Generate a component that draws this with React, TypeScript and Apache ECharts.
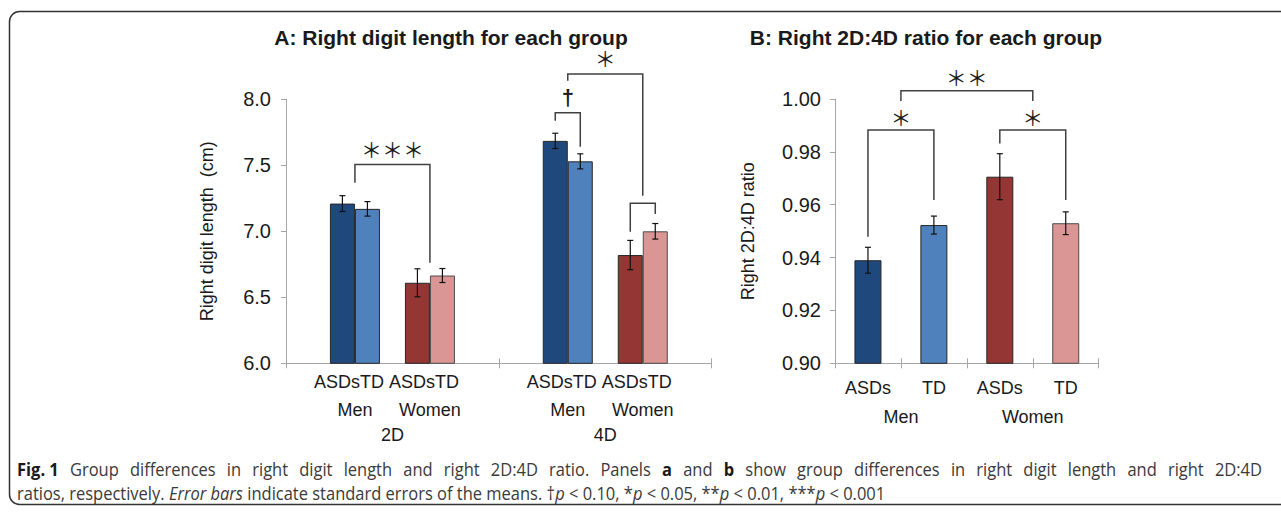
import React, { useEffect, useRef } from 'react';
import * as echarts from 'echarts';

// ---------- Panel A data ----------
const digitGroups = ['2D', '4D'];
const sexLabels = ['Men', 'Women'];
const diagLabels = ['ASDs', 'TD'];
const menASDsLen = [7.21, 7.685];
const menTDLen = [7.17, 7.53];
const womenASDsLen = [6.61, 6.82];
const womenTDLen = [6.665, 7.0];
const menASDsLenSE = [0.06, 0.058];
const menTDLenSE = [0.055, 0.057];
const womenASDsLenSE = [0.106, 0.111];
const womenTDLenSE = [0.053, 0.059];
const emptySlotLen = [6.0, '-'];
const lenMin = 6.0;
const lenMax = 8.0;
const lenStep = 0.5;

// brackets: [digit group, from slot, to slot, left foot, top, right foot, label, label level]
const bracketsA: [number, number, number, number, number, number, string, number][] = [
  [0, 0.5, 3.5, 7.368, 7.507, 6.762, '＊＊＊', 7.621],
  [1, 0, 1, 7.838, 7.898, 7.641, '†', 8.01],
  [1, 0.5, 3.5, 8.141, 8.192, 7.27, '＊', 8.313],
  [1, 3, 4, 6.997, 7.212, 7.131, '', 0],
];

// ---------- Panel B data ----------
const ratioCategories = ['ASDs', 'TD', 'ASDs', 'TD'];
const ratioGroups = ['Men', 'Women'];
const ratioMeans = [0.939, 0.9523, 0.9706, 0.953];
const ratioSE = [0.0049, 0.0034, 0.0087, 0.0043];
const ratioMin = 0.9;
const ratioMax = 1.0;
const ratioStep = 0.02;
// brackets: [from cat, to cat, left foot, top, right foot, label, label level]
const bracketsB: [number, number, number, number, number, string, number][] = [
  [0, 1, 0.9479, 0.9883, 0.9618, '＊', 0.9933],
  [0.5, 2.5, 0.9992, 1.0031, 0.9992, '＊＊', 1.0082],
  [2, 3, 0.9832, 0.9883, 0.9618, '＊', 0.9933],
];

// ---------- caption ----------
const captionLine1: [string, string][] = [
  ['Fig. 1', 'b'], ['Group', 'r'], ['differences', 'r'], ['in', 'r'], ['right', 'r'], ['digit', 'r'],
  ['length', 'r'], ['and', 'r'], ['right', 'r'], ['2D:4D', 'r'], ['ratio.', 'r'], ['Panels', 'r'],
  ['a', 'b'], ['and', 'r'], ['b', 'b'], ['show', 'r'], ['group', 'r'], ['differences', 'r'], ['in', 'r'],
  ['right', 'r'], ['digit', 'r'], ['length', 'r'], ['and', 'r'], ['right', 'r'], ['2D:4D', 'r'],
];
const captionLine2: [string, string][] = [
  ['ratios, respectively. ', 'r'], ['Error bars', 'i'], [' indicate standard errors of the means. †', 'r'],
  ['p', 'i'], [' < 0.10, *', 'r'], ['p', 'i'], [' < 0.05, **', 'r'], ['p', 'i'], [' < 0.01, ***', 'r'],
  ['p', 'i'], [' < 0.001', 'r'],
];

// ---------- styles ----------
const C_MEN_ASD = '#1f497d';
const C_MEN_TD = '#4f81bd';
const C_WOMEN_ASD = '#943634';
const C_WOMEN_TD = '#d99694';
const C_GAP = '#4bacc6';
const AXIS_C = '#a6a6a6';
const TEXT_C = '#1a1a1a';
const BRACKET_C = '#404040';
const FONT = '"Liberation Sans", Arial, sans-serif';
const STAR_FONT = '"Noto Sans CJK JP", "DejaVu Sans", sans-serif';
const CAP_FONT = '"Open Sans", sans-serif';
const CAP_SIZE = 18;
const BAR_W = 25;
const BAR_W_B = 27;

function textEl(x: number, y: number, text: string, align: string, size: number, family: string, weight = 'normal', lineHeight?: number) {
  return {
    type: 'text',
    x,
    y,
    style: {
      text,
      fill: TEXT_C,
      fontSize: size,
      fontFamily: family,
      fontWeight: weight,
      lineHeight: lineHeight || size,
      align,
      verticalAlign: 'middle',
      textAlign: align,
      textVerticalAlign: 'middle',
    },
  };
}

const capStyle = (k: string) => ({
  fontSize: CAP_SIZE,
  fontFamily: CAP_FONT,
  fontWeight: k === 'b' ? 'bold' : 'normal',
  fontStyle: k === 'i' ? 'italic' : 'normal',
  fill: k === 'b' ? '#1a1a1a' : '#3a3a3a',
});

function measure(ctx: CanvasRenderingContext2D | null, text: string, k: string) {
  if (!ctx) return text.length * CAP_SIZE * 0.52;
  ctx.font = `${k === 'i' ? 'italic ' : ''}${k === 'b' ? 'bold ' : ''}${CAP_SIZE}px ${CAP_FONT}`;
  return ctx.measureText(text).width;
}

echarts.graphic.registerShape(
  'frameOpen',
  echarts.graphic.extendPath(
    'M 1300 11.5 H 19.5 A 10 10 0 0 0 9.5 21.5 V 494.5 A 10 10 0 0 0 19.5 504.5 H 1300',
    {}
  )
);

export default function App() {
  const ref = useRef<HTMLDivElement>(null);
  useEffect(() => {
    if (!ref.current) return;
    const chart = echarts.init(ref.current, null, { renderer: 'svg' });

    const lenSeriesMeans = [menASDsLen, menTDLen, womenASDsLen, womenTDLen];
    const lenSeriesSE = [menASDsLenSE, menTDLenSE, womenASDsLenSE, womenTDLenSE];
    const lenSlots = [0, 1, 3, 4];
    const errDataA: number[][] = [];
    lenSeriesMeans.forEach((arr, s) => {
      arr.forEach((v, g) => {
        errDataA.push([g, v, lenSeriesSE[s][g], lenSlots[s]]);
      });
    });

    const labelItemsA: { g: number; slot: number; text: string; kind: string }[] = [];
    digitGroups.forEach((_, g) => {
      sexLabels.forEach((sex, k) => {
        const slot = k * 3 + 0.5;
        labelItemsA.push({ g, slot, text: diagLabels[0], kind: 'left' });
        labelItemsA.push({ g, slot, text: diagLabels[1], kind: 'right' });
        labelItemsA.push({ g, slot, text: sex, kind: 'sex' });
      });
    });

    // ---- caption layout (justified first line, condensed face) ----
    const ctx = document.createElement('canvas').getContext('2d');
    const line2W = captionLine2.reduce((s, [t, k]) => s + measure(ctx, t, k), 0);
    const capScale = 868 / line2W;
    const capLeft = 17;
    const capRight = 1262;
    const wordW = captionLine1.map(([t, k]) => measure(ctx, t, k) * capScale);
    const totalW = wordW.reduce((a, b) => a + b, 0);
    const gapW = (capRight - capLeft - totalW) / (captionLine1.length - 1);
    const captionEls: any[] = [];
    let cx = capLeft;
    captionLine1.forEach(([t, k], i) => {
      captionEls.push({
        type: 'text',
        x: cx,
        y: 469,
        scaleX: capScale,
        silent: true,
        style: { text: t, verticalAlign: 'middle', textVerticalAlign: 'middle', ...capStyle(k) },
      });
      cx += wordW[i] + gapW;
    });
    const rich: any = { b: capStyle('b'), r: capStyle('r'), i: capStyle('i') };
    captionEls.push({
      type: 'text',
      x: capLeft,
      y: 493,
      scaleX: capScale,
      silent: true,
      style: {
        text: captionLine2.map(([t, k]) => `{${k}|${t}}`).join(''),
        verticalAlign: 'middle',
        textVerticalAlign: 'middle',
        ...capStyle('r'),
        rich,
      },
    });

    const barBorder = { borderColor: '#262626', borderWidth: 1 };

    const mkBarA = (name: string, data: any[], color: string, extra: any = {}) => ({
      name,
      type: 'bar',
      xAxisIndex: 0,
      yAxisIndex: 0,
      data,
      barWidth: BAR_W,
      barGap: '0%',
      itemStyle: { color, ...barBorder, ...extra },
      silent: true,
    });

    const errorRender = (slotted: boolean) => (params: any, api: any) => {
      const g = api.value(0);
      const m = api.value(1);
      const se = api.value(2);
      const slot = slotted ? api.value(3) : 2;
      const c = api.coord([g, m]);
      const x = c[0] + (slot - 2) * BAR_W;
      const yt = api.coord([g, m + se])[1];
      const yb = api.coord([g, m - se])[1];
      const st = { stroke: '#111', lineWidth: 1.2 };
      return {
        type: 'group',
        children: [
          { type: 'line', shape: { x1: x, y1: yt, x2: x, y2: yb }, style: st },
          { type: 'line', shape: { x1: x - 3, y1: yt, x2: x + 3, y2: yt }, style: st },
          { type: 'line', shape: { x1: x - 3, y1: yb, x2: x + 3, y2: yb }, style: st },
        ],
      };
    };

    const catAxisBase = (grid: number, data: string[]) => ({
      gridIndex: grid,
      position: 'bottom',
      offset: 0,
      type: 'category',
      data,
    });

    const option: any = {
      animation: false,
      backgroundColor: '#ffffff',
      grid: [
        { left: 286, top: 99.3, width: 425.7, height: 264 },
        { left: 835, top: 99, width: 263.7, height: 264.3 },
      ],
      xAxis: [
        {
          ...catAxisBase(0, digitGroups),
          axisLine: { lineStyle: { color: AXIS_C, width: 1 } },
          axisTick: { show: true, length: 5, alignWithLabel: false, lineStyle: { color: AXIS_C } },
          axisLabel: { margin: 72, fontSize: 18, color: TEXT_C, fontFamily: FONT, verticalAlign: 'middle' },
        },
        {
          ...catAxisBase(0, digitGroups),
          axisLine: { show: false },
          axisTick: { show: true, inside: true, length: 5, lineStyle: { color: AXIS_C } },
          axisLabel: { show: false },
        },
        {
          ...catAxisBase(1, ratioCategories),
          axisLine: { lineStyle: { color: AXIS_C, width: 1 } },
          axisTick: { show: true, length: 5, alignWithLabel: false, lineStyle: { color: AXIS_C } },
          axisLabel: { margin: 25, fontSize: 18, color: TEXT_C, fontFamily: FONT, verticalAlign: 'middle', interval: 0 },
        },
        {
          ...catAxisBase(1, ratioCategories),
          axisLine: { show: false },
          axisTick: { show: true, inside: true, length: 5, lineStyle: { color: AXIS_C } },
          axisLabel: { show: false },
        },
        {
          ...catAxisBase(1, ratioGroups),
          axisLine: { show: false },
          axisTick: { show: false },
          axisLabel: { margin: 53.4, fontSize: 18, color: TEXT_C, fontFamily: FONT, verticalAlign: 'middle' },
        },
      ],
      yAxis: [
        {
          gridIndex: 0,
          type: 'value',
          min: lenMin,
          max: lenMax,
          interval: lenStep,
          axisLine: { show: true, lineStyle: { color: AXIS_C, width: 1 } },
          axisTick: { show: true, length: 5, lineStyle: { color: AXIS_C } },
          splitLine: { show: false },
          axisLabel: {
            margin: 15,
            fontSize: 20,
            color: TEXT_C,
            fontFamily: FONT,
            formatter: (v: number) => v.toFixed(1),
          },
          name: 'Right digit length  (cm)',
          nameLocation: 'middle',
          nameGap: 70,
          nameTextStyle: { fontSize: 18, color: TEXT_C, fontFamily: FONT },
        },
        {
          gridIndex: 1,
          type: 'value',
          min: ratioMin,
          max: ratioMax,
          interval: ratioStep,
          axisLine: { show: true, lineStyle: { color: AXIS_C, width: 1 } },
          axisTick: { show: true, length: 5, lineStyle: { color: AXIS_C } },
          splitLine: { show: false },
          axisLabel: {
            margin: 14,
            fontSize: 20,
            color: TEXT_C,
            fontFamily: FONT,
            formatter: (v: number) => v.toFixed(2),
          },
          name: 'Right 2D:4D ratio',
          nameLocation: 'middle',
          nameGap: 78,
          nameTextStyle: { fontSize: 18, color: TEXT_C, fontFamily: FONT },
        },
      ],
      series: [
        mkBarA('Men ASDs', menASDsLen, C_MEN_ASD),
        mkBarA('Men TD', menTDLen, C_MEN_TD),
        mkBarA('gap', emptySlotLen, C_GAP, { borderColor: C_GAP, borderWidth: 1 }),
        mkBarA('Women ASDs', womenASDsLen, C_WOMEN_ASD),
        mkBarA('Women TD', womenTDLen, C_WOMEN_TD, { borderColor: '#4d4d4d' }),
        {
          type: 'custom',
          xAxisIndex: 0,
          yAxisIndex: 0,
          data: errDataA,
          encode: { x: 0, y: 1 },
          renderItem: errorRender(true),
          silent: true,
          z: 5,
          clip: false,
        },
        {
          type: 'custom',
          xAxisIndex: 0,
          yAxisIndex: 0,
          data: bracketsA.map((b) => [b[0], b[4]]),
          encode: { x: 0, y: 1 },
          clip: false,
          silent: true,
          z: 6,
          renderItem: (params: any, api: any) => {
            const b = bracketsA[params.dataIndex];
            const base = api.coord([b[0], b[4]]);
            const xl = base[0] + (b[1] - 2) * BAR_W;
            const xr = base[0] + (b[2] - 2) * BAR_W;
            const yl = api.coord([b[0], b[3]])[1];
            const yr = api.coord([b[0], b[5]])[1];
            const children: any[] = [
              {
                type: 'polyline',
                shape: { points: [[xl, yl], [xl, base[1]], [xr, base[1]], [xr, yr]] },
                style: { stroke: BRACKET_C, lineWidth: 1.5, fill: 'none' },
              },
            ];
            if (b[6]) {
              const yt = api.coord([b[0], b[7]])[1];
              const isDagger = b[6] === '†';
              children.push(
                textEl((xl + xr) / 2, yt, b[6], 'center', isDagger ? 22 : 21, isDagger ? FONT : STAR_FONT, isDagger ? 'bold' : 'normal', 14)
              );
            }
            return { type: 'group', children };
          },
        },
        {
          type: 'custom',
          xAxisIndex: 0,
          yAxisIndex: 0,
          data: labelItemsA.map((l) => [l.g, lenMin]),
          encode: { x: 0, y: 1 },
          clip: false,
          silent: true,
          renderItem: (params: any, api: any) => {
            const l = labelItemsA[params.dataIndex];
            const c = api.coord([l.g, lenMin]);
            const px = c[0] + (l.slot - 2) * BAR_W;
            if (l.kind === 'sex') return textEl(px, c[1] + 46.7, l.text, 'center', 18, FONT);
            if (l.kind === 'left') return textEl(px + 5, c[1] + 18.4, l.text, 'right', 18, FONT);
            return textEl(px + 5, c[1] + 18.4, l.text, 'left', 18, FONT);
          },
        },
        {
          name: 'ratio',
          type: 'bar',
          xAxisIndex: 2,
          yAxisIndex: 1,
          barWidth: BAR_W_B,
          silent: true,
          data: ratioMeans.map((v, i) => ({
            value: v,
            itemStyle: {
              color: [C_MEN_ASD, C_MEN_TD, C_WOMEN_ASD, C_WOMEN_TD][i],
              borderColor: i === 3 ? '#4d4d4d' : '#262626',
              borderWidth: 1,
            },
          })),
        },
        {
          type: 'custom',
          xAxisIndex: 2,
          yAxisIndex: 1,
          data: ratioMeans.map((v, i) => [i, v, ratioSE[i]]),
          encode: { x: 0, y: 1 },
          renderItem: errorRender(false),
          silent: true,
          z: 5,
          clip: false,
        },
        {
          type: 'custom',
          xAxisIndex: 2,
          yAxisIndex: 1,
          data: bracketsB.map((b) => [Math.round(b[0]), b[3]]),
          encode: { x: 0, y: 1 },
          clip: false,
          silent: true,
          z: 6,
          renderItem: (params: any, api: any) => {
            const b = bracketsB[params.dataIndex];
            const x0 = api.coord([0, b[3]])[0];
            const step = api.coord([1, b[3]])[0] - x0;
            const xl = x0 + b[0] * step;
            const xr = x0 + b[1] * step;
            const yTop = api.coord([0, b[3]])[1];
            const yl = api.coord([0, b[2]])[1];
            const yr = api.coord([0, b[4]])[1];
            const yt = api.coord([0, b[6]])[1];
            return {
              type: 'group',
              children: [
                {
                  type: 'polyline',
                  shape: { points: [[xl, yl], [xl, yTop], [xr, yTop], [xr, yr]] },
                  style: { stroke: BRACKET_C, lineWidth: 1.5, fill: 'none' },
                },
                textEl((xl + xr) / 2, yt, b[5], 'center', 21, STAR_FONT, 'normal', 14),
              ],
            };
          },
        },
      ],
      graphic: [
        {
          type: 'frameOpen',
          x: 0,
          y: 0,
          silent: true,
          style: { fill: 'none', stroke: '#333333', lineWidth: 1.5 },
        },
        textEl(451, 37, 'A: Right digit length for each group', 'center', 21, FONT, 'bold'),
        textEl(926, 37, 'B: Right 2D:4D ratio for each group', 'center', 21, FONT, 'bold'),
        ...captionEls,
      ],
    };

    chart.setOption(option);
    return () => chart.dispose();
  }, []);

  return (
    <div
      ref={ref}
      style={{ position: 'absolute', left: 0, top: 0, width: 1281, height: 512, background: '#fff' }}
    />
  );
}
